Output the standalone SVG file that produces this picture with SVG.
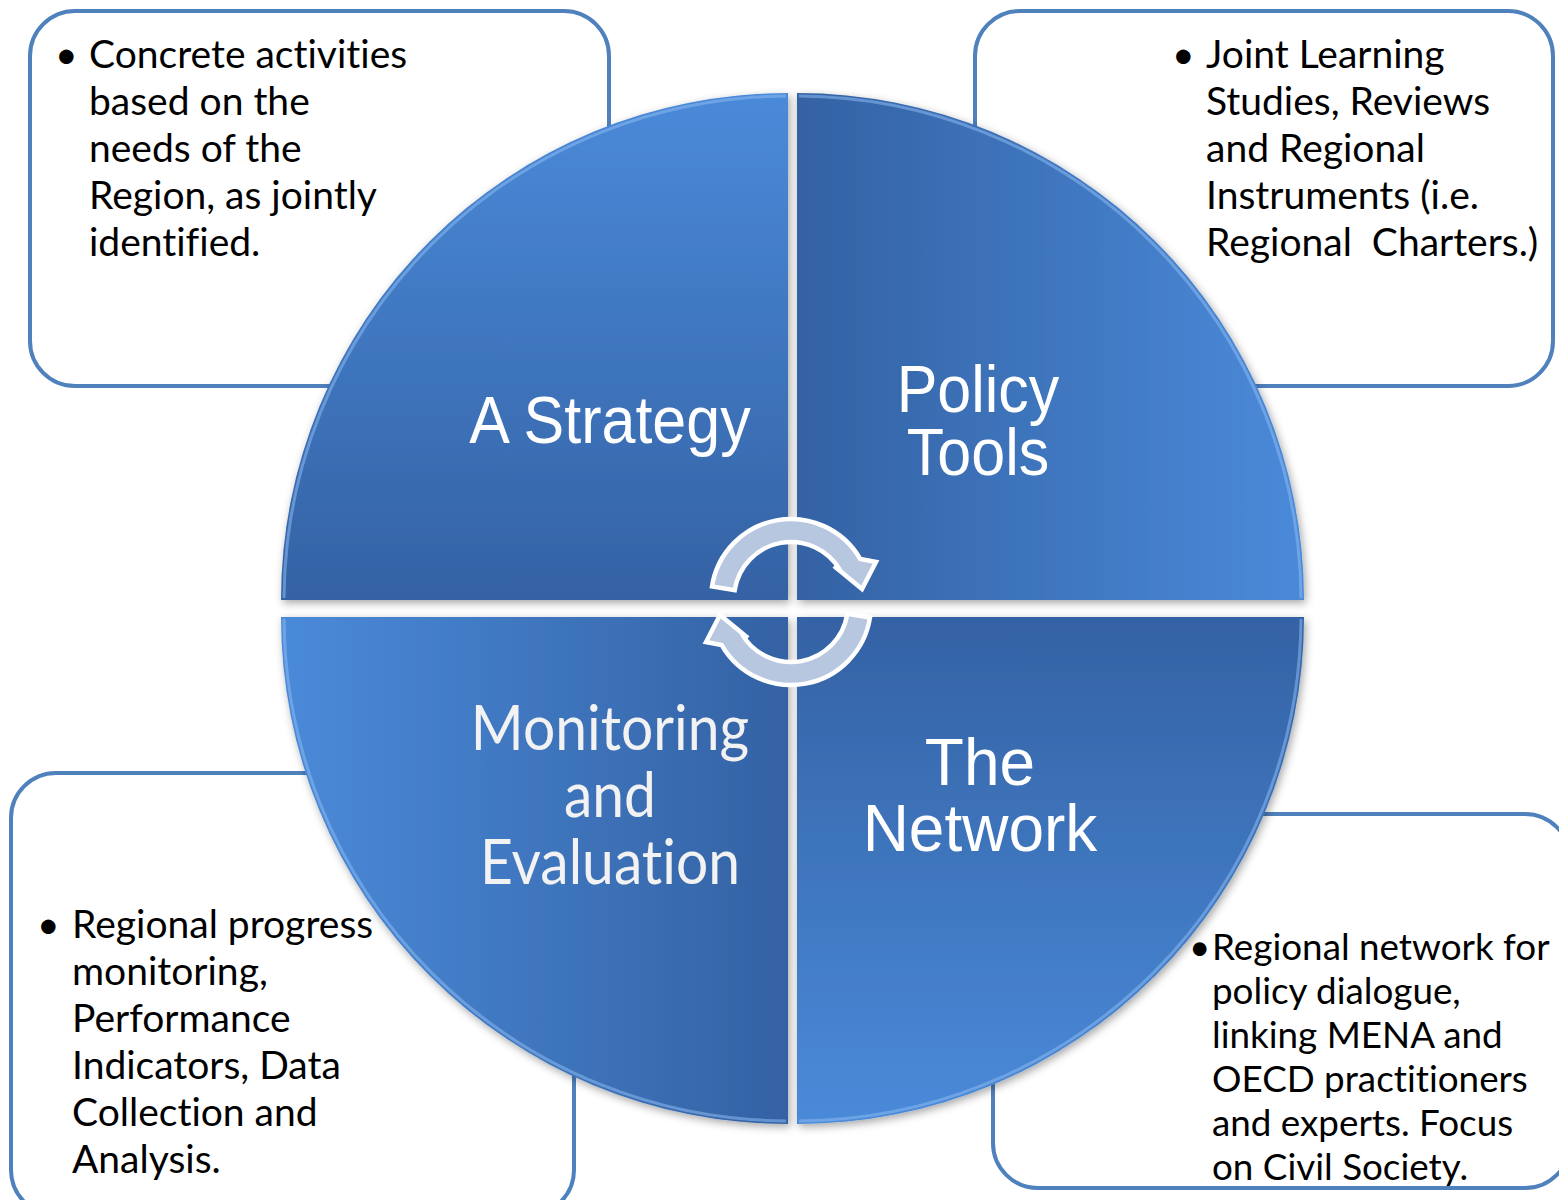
<svg xmlns="http://www.w3.org/2000/svg" width="1559" height="1200" viewBox="0 0 1559 1200">
<style>
text{font-variant-ligatures:none;white-space:pre}
.box{fill:#fff;stroke:#4f81bd;stroke-width:4}
.body{font-family:Lato,"Liberation Sans",sans-serif;font-size:39px;fill:#000}
.body2{font-family:Lato,"Liberation Sans",sans-serif;font-size:36.8px;fill:#000}
.lbl{font-family:"Liberation Sans",Arial,sans-serif;font-size:61px;fill:#fff;text-anchor:middle}
.lbl3{font-family:"Liberation Sans",Arial,sans-serif;font-size:64px;fill:#fff;text-anchor:middle}
.lbl2{font-family:Lato,"Liberation Sans",sans-serif;font-size:57px;fill:#f2f2f2;text-anchor:middle}
.rim{fill:none;stroke:#8dbaf0;stroke-width:3;stroke-opacity:.55}
.arrow{fill:#b8c7e0;stroke:#fff;stroke-width:4.5;stroke-linejoin:miter}
</style>
<defs>
<linearGradient id="gTL" x1="0" y1="0" x2="0" y2="1"><stop offset="0" stop-color="#4a8ad9"/><stop offset="1" stop-color="#3462a4"/></linearGradient>
<linearGradient id="gTR" x1="0" y1="0" x2="1" y2="0"><stop offset="0" stop-color="#3462a4"/><stop offset="1" stop-color="#4a8ad9"/></linearGradient>
<linearGradient id="gBL" x1="0" y1="0" x2="1" y2="0"><stop offset="0" stop-color="#4a8ad9"/><stop offset="1" stop-color="#3462a4"/></linearGradient>
<linearGradient id="gBR" x1="0" y1="0" x2="0" y2="1"><stop offset="0" stop-color="#3462a4"/><stop offset="1" stop-color="#4a8ad9"/></linearGradient>
<filter id="sh" x="-10%" y="-10%" width="120%" height="120%"><feDropShadow dx="2" dy="3" stdDeviation="4" flood-color="#000" flood-opacity="0.35"/></filter>
</defs>

<g id="box-strategy">
<rect class="box" x="30" y="11" width="579" height="375" rx="45"/>
<text class="body"><tspan x="55" y="68">•</tspan><tspan x="89" y="68">Concrete activities</tspan><tspan x="89" y="115">based on the</tspan><tspan x="89" y="162">needs of the</tspan><tspan x="89" y="209">Region, as jointly</tspan><tspan x="89" y="256">identified.</tspan></text>
</g>
<g id="box-policy">
<rect class="box" x="975" y="11" width="578" height="375" rx="45"/>
<text class="body"><tspan x="1172" y="68">•</tspan><tspan x="1206" y="68">Joint Learning</tspan><tspan x="1206" y="115">Studies, Reviews</tspan><tspan x="1206" y="162">and Regional</tspan><tspan x="1206" y="209">Instruments (i.e.</tspan><tspan x="1206" y="256">Regional  Charters.)</tspan></text>
</g>
<g id="box-monitoring">
<rect class="box" x="11" y="773" width="563" height="442" rx="45"/>
<text class="body"><tspan x="37" y="938">•</tspan><tspan x="72" y="938">Regional progress</tspan><tspan x="72" y="985">monitoring,</tspan><tspan x="72" y="1032">Performance</tspan><tspan x="72" y="1079">Indicators, Data</tspan><tspan x="72" y="1126">Collection and</tspan><tspan x="72" y="1173">Analysis.</tspan></text>
</g>
<g id="box-network">
<rect class="box" x="993" y="814" width="577" height="374" rx="45"/>
<text class="body2"><tspan x="1189" y="960">•</tspan><tspan x="1212" y="960">Regional network for</tspan><tspan x="1212" y="1004">policy dialogue,</tspan><tspan x="1212" y="1048">linking MENA and</tspan><tspan x="1212" y="1092">OECD practitioners</tspan><tspan x="1212" y="1136">and experts. Focus</tspan><tspan x="1212" y="1180">on Civil Society.</tspan></text>
</g>

<g id="q-strategy" filter="url(#sh)">
<path d="M788,600 L281,600 A507,507 0 0 1 788,93 Z" fill="url(#gTL)"/>
<path class="rim" d="M284,598 A505,505 0 0 1 786,96"/>
<text class="lbl" transform="translate(610,443) scale(1,1.1)">A Strategy</text>
</g>
<g id="q-policy" filter="url(#sh)">
<path d="M797,600 L797,93 A507,507 0 0 1 1304,600 Z" fill="url(#gTR)"/>
<path class="rim" d="M799,96 A505,505 0 0 1 1301,598"/>
<text class="lbl" transform="translate(978,412) scale(1,1.08)">Policy</text>
<text class="lbl" transform="translate(978,475) scale(1,1.08)">Tools</text>
</g>
<g id="q-monitoring" filter="url(#sh)">
<path d="M788,617 L788,1124 A507,507 0 0 1 281,617 Z" fill="url(#gBL)"/>
<path class="rim" d="M786,1121 A505,505 0 0 1 284,619"/>
<text class="lbl2" transform="translate(610,750) scale(1,1.1)">Monitoring</text>
<text class="lbl2" transform="translate(610,817) scale(1,1.1)">and</text>
<text class="lbl2" transform="translate(610,884) scale(1,1.1)">Evaluation</text>
</g>
<g id="q-network" filter="url(#sh)">
<path d="M797,617 L1304,617 A507,507 0 0 1 797,1124 Z" fill="url(#gBR)"/>
<path class="rim" d="M1301,619 A505,505 0 0 1 799,1121"/>
<text class="lbl3" transform="translate(980,785) scale(1,1.03)">The</text>
<text class="lbl3" transform="translate(980,851) scale(1,1.03)">Network</text>
</g>

<g id="connectors">
<path id="arrow-top" class="arrow" d="M712,586.5 A80,80 0 0 1 860.3,559 L876,562 L862,589 L834,566 L840.4,570.5 A57,57 0 0 0 734.7,590.1 Z"/>
<path id="arrow-bottom" class="arrow" transform="rotate(180 791 602)" d="M712,586.5 A80,80 0 0 1 860.3,559 L876,562 L862,589 L834,566 L840.4,570.5 A57,57 0 0 0 734.7,590.1 Z"/>
</g>
</svg>
